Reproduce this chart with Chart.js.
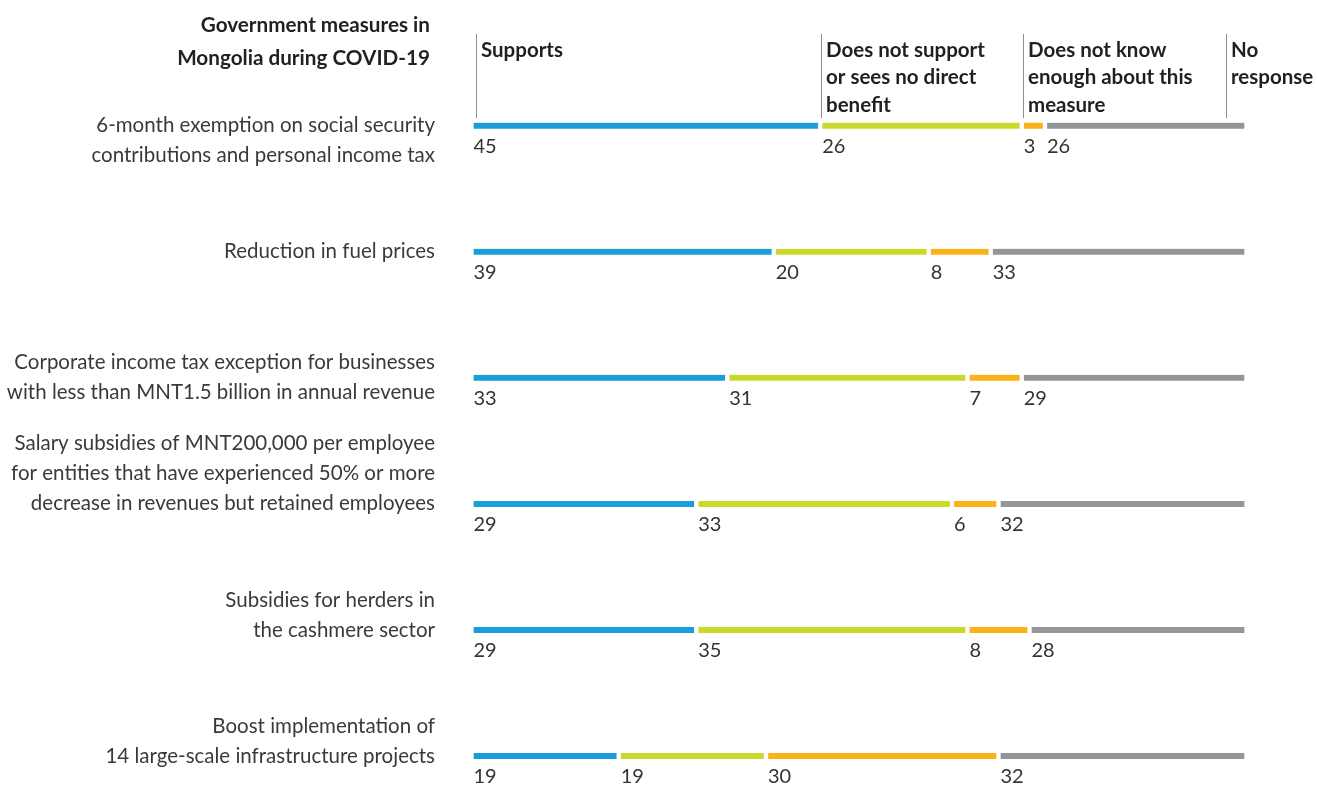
<!DOCTYPE html>
<html>
<head>
<meta charset="utf-8">
<title>Government measures in Mongolia during COVID-19</title>
<script src="https://cdn.jsdelivr.net/npm/chart.js@4/dist/chart.umd.min.js"></script>
<style>
  html, body { margin: 0; padding: 0; background: #ffffff; }
  #wrap { position: relative; width: 1317px; height: 785px; }
</style>
</head>
<body>
<div id="wrap"><canvas id="c"></canvas></div>
<script>
// ---- data ----
const chartTitle = ['Government measures in', 'Mongolia during COVID-19'];

const categories = [
  ['6-month exemption on social security', 'contributions and personal income tax'],
  ['Reduction in fuel prices'],
  ['Corporate income tax exception for businesses', 'with less than MNT1.5 billion in annual revenue'],
  ['Salary subsidies of MNT200,000 per employee', 'for entities that have experienced 50% or more', 'decrease in revenues but retained employees'],
  ['Subsidies for herders in', 'the cashmere sector'],
  ['Boost implementation of', '14 large-scale infrastructure projects']
];

const seriesNames = [
  'Supports',
  'Does not support or sees no direct benefit',
  'Does not know enough about this measure',
  'No response'
];
const seriesHeaderLines = [
  ['Supports'],
  ['Does not support', 'or sees no direct', 'benefit'],
  ['Does not know', 'enough about this', 'measure'],
  ['No', 'response']
];

const supports       = [45, 39, 33, 29, 29, 19];
const doesNotSupport = [26, 20, 31, 33, 35, 19];
const doesNotKnow    = [3, 8, 7, 6, 8, 30];
const noResponse     = [26, 33, 29, 32, 28, 32];

// ---- styling ----
const seriesColors = ['#1b9dd9', '#c8d92b', '#fbb118', '#939598'];
const FONT = 'Lato, "Open Sans", sans-serif';

// which line of each category label sits level with its bar
const labelAnchor = [0, 0, 0.5, 2, 1, 1];
function tickLines(lines, anchor) {
  const below = lines.length - 1 - anchor;
  const pre = Math.max(0, Math.round(below - anchor));
  const post = Math.max(0, Math.round(anchor - below));
  return [...Array(pre).fill(''), ...lines, ...Array(post).fill('')];
}

// title on the left and the column headers with their rules
const headerPlugin = {
  id: 'columnHeaders',
  afterDraw(chart, args, opts) {
    const ctx = chart.ctx;
    const xs = chart.scales.x;
    ctx.save();
    ctx.fillStyle = '#231f20';
    ctx.font = 'bold 20.7px ' + FONT;
    ctx.textBaseline = 'middle';
    ctx.textAlign = 'right';
    chartTitle.forEach((t, i) => ctx.fillText(t, 430, 25 + i * 33));

    ctx.font = 'bold 20.5px ' + FONT;
    ctx.textAlign = 'left';
    opts.columnAt.forEach((v, i) => {
      const px = Math.round(xs.getPixelForValue(v)) + 0.5;
      ctx.strokeStyle = '#8f8f8f';
      ctx.lineWidth = 1;
      ctx.beginPath();
      ctx.moveTo(px, 34);
      ctx.lineTo(px, 118);
      ctx.stroke();
      seriesHeaderLines[i].forEach((t, j) => ctx.fillText(t, px + 4.5, 50 + j * 27.5));
    });
    ctx.restore();
  }
};

// value under the start of each segment
const valueLabels = {
  id: 'valueLabels',
  afterDatasetsDraw(chart) {
    const ctx = chart.ctx;
    ctx.save();
    ctx.font = '20px ' + FONT;
    ctx.fillStyle = '#333333';
    ctx.textAlign = 'left';
    ctx.textBaseline = 'middle';
    chart.data.datasets.forEach((ds, di) => {
      chart.getDatasetMeta(di).data.forEach((bar, i) => {
        const left = Math.min(bar.x, bar.base);
        ctx.fillText(String(ds.data[i]), left + 2, bar.y + 21);
      });
    });
    ctx.restore();
  }
};

const seriesValues = [supports, doesNotSupport, doesNotKnow, noResponse];

new Chart(document.getElementById('c'), {
  type: 'bar',
  data: {
    labels: categories.map((c, i) => tickLines(c, labelAnchor[i])),
    datasets: seriesNames.map((name, i) => ({
      label: name,
      data: seriesValues[i],
      backgroundColor: seriesColors[i],
      borderColor: '#ffffff',
      borderWidth: { left: 2.5, right: 2.5, top: 0, bottom: 0 },
      borderSkipped: false,
      barThickness: 6,
      clip: false
    }))
  },
  options: {
    indexAxis: 'y',
    responsive: true,
    maintainAspectRatio: false,
    animation: false,
    layout: { padding: { left: 0, right: 70.5, top: 125.7, bottom: 29 } },
    plugins: {
      legend: { display: false },
      tooltip: { enabled: false },
      columnHeaders: { columnAt: [0.58, 45.06, 71.12, 97.35] }
    },
    scales: {
      x: { stacked: true, min: 0, max: 100, display: false },
      y: {
        stacked: true,
        offset: false,
        grid: { display: false, drawTicks: false },
        border: { display: false },
        ticks: {
          autoSkip: false,
          padding: 36.5,
          color: '#3a3a3a',
          font: { family: FONT, size: 20.5, lineHeight: 30 / 20.5 }
        },
        afterFit(s) { s.width = 471.5; s.paddingTop = 0; s.paddingBottom = 0; }
      }
    }
  },
  plugins: [headerPlugin, valueLabels]
});
</script>
</body>
</html>
